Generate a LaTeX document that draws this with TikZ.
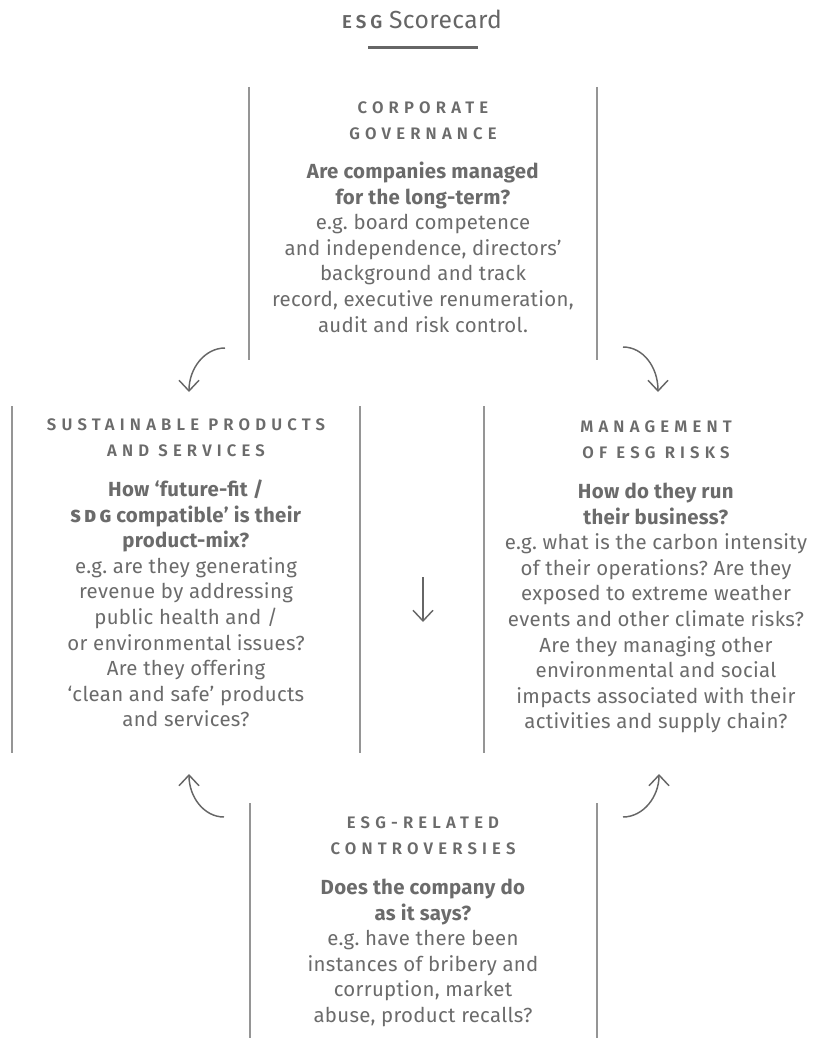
\documentclass[tikz,border=0pt]{standalone}
\usepackage{fontspec}
\setmainfont{Fira Sans}[LetterSpace=1.5]
\newfontfamily\headfont{Fira Sans SemiBold}[LetterSpace=31]
\newfontfamily\scfont{Fira Sans SemiBold}[LetterSpace=22]
\usetikzlibrary{arrows.meta}
\definecolor{txt}{HTML}{6B6B6B}
\definecolor{rulec}{HTML}{959595}
\definecolor{arr}{HTML}{666666}
\frenchspacing
\newcommand{\stack}[1]{\begin{tabular}[t]{@{}c@{}}#1\end{tabular}}
\newcommand{\smc}[1]{{\scfont\fontsize{13}{12}\selectfont #1}}
\tikzset{
  body/.style={anchor=base, inner sep=0pt, text=txt, font=\fontsize{15.3}{19.2}\selectfont},
  head/.style={anchor=base, inner sep=0pt, text=txt, font=\headfont\fontsize{12.5}{19.8}\selectfont},
  vrule/.style={draw=rulec, line width=0.9pt},
  cyc/.style={draw=arr, line width=1.1pt, -{Straight Barb[length=8pt,width=15pt]}},
}
\begin{document}
\begin{tikzpicture}[x=0.75pt, y=-0.75pt]
\useasboundingbox (0,0) rectangle (820,1041);
% title
\node[anchor=base, inner sep=0pt, text=arr] (title) at (422,28.5)
  {{\scfont\fontsize{14}{14}\selectfont ESG}\hspace{5pt}\fontsize{18.5}{20}\selectfont Scorecard};
\coordinate (ul1) at (368,48);
\coordinate (ul2) at (478,48);
\draw[draw=arr, line width=2.25pt] (ul1) -- (ul2);
% vertical rules
\draw[vrule] (249,87) -- (249,360);
\draw[vrule] (597,87) -- (597,360);
\draw[vrule] (12,406) -- (12,753);
\draw[vrule] (360,406) -- (360,753);
\draw[vrule] (484,406) -- (484,753);
\draw[vrule] (250,803) -- (250,1038);
\draw[vrule] (597,803) -- (597,1038);
% top block
\node[head] (toph) at (423,113.5) {\stack{CORPORATE\\GOVERNANCE}};
\node[body] (topb) at (423,178.5) {\stack{%
\textbf{Are companies managed}\\
\textbf{for the long-term?}\\
e.g. board competence\\
and independence, directors’\\
background and track\\
record, executive renumeration,\\
audit and risk control.}};
% left block
\node[head] (lefth) at (186,430.5) {\stack{SUSTAINABLE PRODUCTS\\AND SERVICES}};
\node[body] (leftb) at (186,496.5) {\stack{%
\textbf{How ‘future-fit /}\\
\textbf{\smc{SDG} compatible’ is their}\\
\textbf{product-mix?}\\
e.g. are they generating\\
revenue by addressing\\
public health and /\\
or environmental issues?\\
Are they offering\\
‘clean and safe’ products\\
and services?}};
% right block
\node[head] (righth) at (656,432.5) {\stack{MANAGEMENT\\OF ESG RISKS}};
\node[body] (rightb) at (656,498.5) {\stack{%
\textbf{How do they run}\\
\textbf{their business?}\\
e.g. what is the carbon intensity\\
of their operations? Are they\\
exposed to extreme weather\\
events and other climate risks?\\
Are they managing other\\
environmental and social\\
impacts associated with their\\
activities and supply chain?}};
% bottom block
\node[head] (both) at (423,828.5) {\stack{ESG-RELATED\\CONTROVERSIES}};
\node[body] (botb) at (423,894.5) {\stack{%
\textbf{Does the company do}\\
\textbf{as it says?}\\
e.g. have there been\\
instances of bribery and\\
corruption, market\\
abuse, product recalls?}};
% arrow end points
\coordinate (tlA) at (225,348);  \coordinate (tlB) at (189,392);
\coordinate (trA) at (623,347);  \coordinate (trB) at (658,392);
\coordinate (blA) at (224,817);  \coordinate (blB) at (189,774);
\coordinate (brA) at (623,817);  \coordinate (brB) at (659,774);
\coordinate (mdA) at (423,577);  \coordinate (mdB) at (423,622);
\draw[cyc] (tlA) .. controls (205,348) and (189,368) .. (tlB);
\draw[cyc] (trA) .. controls (643,347) and (658,367) .. (trB);
\draw[cyc] (blA) .. controls (204,817) and (189,797) .. (blB);
\draw[cyc] (brA) .. controls (643,817) and (659,797) .. (brB);
\draw[cyc] (mdA) -- (mdB);
\end{tikzpicture}
\end{document}
